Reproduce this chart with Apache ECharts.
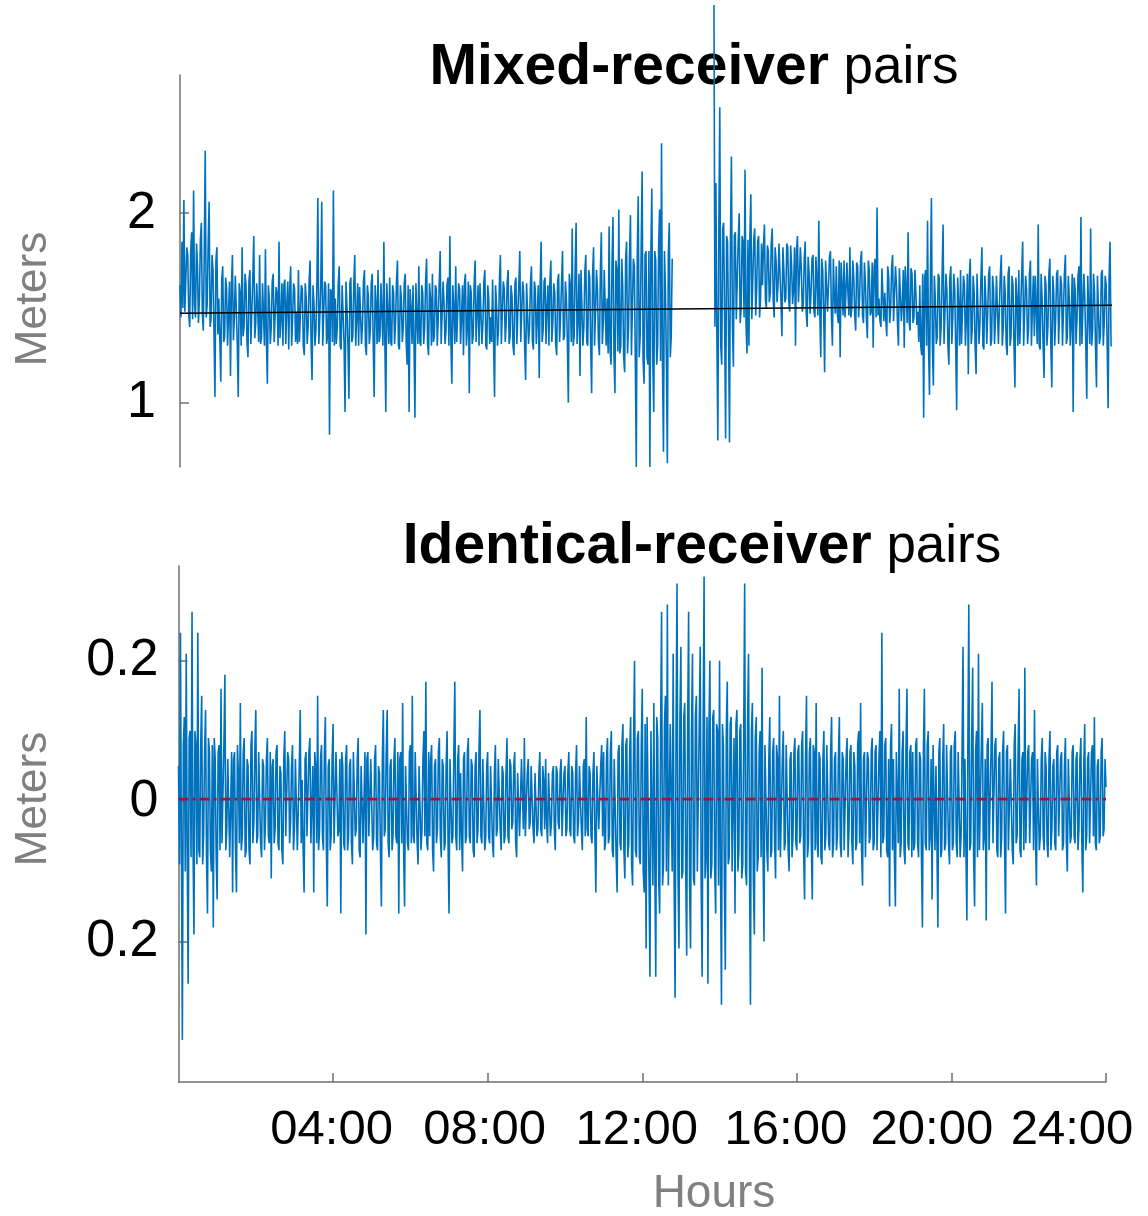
<!DOCTYPE html>
<html>
<head>
<meta charset="utf-8">
<script src="https://cdn.jsdelivr.net/npm/echarts@6/dist/echarts.min.js"></script>
<style>
  html, body { margin: 0; padding: 0; background: #ffffff; }
  #chart { width: 1148px; height: 1216px; }
</style>
</head>
<body>
<div id="chart"></div>
<script>
// Sampling interval of both records, in hours (1.5 minutes).
const sampleStep = 0.025;

// Tick positions
const hourTicks = [4, 8, 12, 16, 20, 24];
const mixedTicks = [1, 2];
const identicalTicks = [-0.2, 0, 0.2];

// Linear trend of the mixed-receiver record (hour, metres)
const mixedTrend = [[0, 1.472], [24, 1.514]];
// Mean level of the identical-receiver record (metres)
const identicalMean = 0.003;

// Mixed-receiver pairs, metres. One row per hour, 40 samples per row; null = no data.
const mixedPairs = [
  [1.62,1.45,1.85,1.50,2.07,1.48,1.48,1.82,1.78,1.46,1.40,1.80,1.90,1.44,2.12,1.52,1.45,1.84,1.72,1.42,1.55,1.86,1.95,1.47,1.38,1.80,2.33,1.45,1.52,1.83,2.06,1.40,1.44,1.78,1.70,1.38,1.03,1.75,1.82,1.36],
  [1.55,1.34,1.11,1.65,1.72,1.32,1.35,1.66,1.60,1.30,1.30,1.64,1.14,1.62,1.78,1.33,1.45,1.67,1.66,1.31,1.03,1.63,1.58,1.30,1.82,1.35,1.40,1.68,1.62,1.32,1.24,1.64,1.70,1.31,1.48,1.66,1.88,1.34,1.42,1.63],
  [1.50,1.32,1.78,1.31,1.35,1.63,1.62,1.30,1.81,1.33,1.10,1.62,1.55,1.31,1.40,1.64,1.68,1.32,1.32,1.61,1.58,1.30,1.85,1.34,1.44,1.63,1.30,1.62,1.65,1.31,1.52,1.64,1.28,1.60,1.72,1.30,1.45,1.63,1.60,1.32],
  [1.48,1.31,1.70,1.32,1.33,1.62,1.60,1.30,1.25,1.63,1.55,1.31,1.40,1.64,1.75,1.32,1.12,1.62,1.52,1.30,1.38,1.63,2.08,1.31,1.45,1.62,2.06,1.30,1.30,1.64,1.62,1.31,1.35,1.63,0.83,1.60,1.58,1.32,2.12,1.30],
  [1.55,1.31,1.40,1.63,1.72,1.30,1.28,1.62,1.62,1.31,0.95,1.64,1.50,1.30,1.02,1.63,1.66,1.32,1.35,1.62,1.78,1.30,1.45,1.63,1.30,1.61,1.60,1.31,1.42,1.64,1.70,1.30,1.25,1.62,1.56,1.31,1.38,1.63,1.68,1.32],
  [1.03,1.62,1.52,1.31,1.70,1.32,1.35,1.63,1.62,1.30,1.85,1.32,0.95,1.63,1.48,1.31,1.66,1.32,1.30,1.62,1.58,1.31,1.42,1.64,1.75,1.30,1.28,1.62,1.55,1.32,1.40,1.63,1.68,1.31,1.20,1.62,0.95,1.60,1.50,1.31],
  [1.62,1.32,0.92,1.63,1.45,1.31,1.72,1.32,1.30,1.62,1.58,1.31,1.40,1.64,1.76,1.31,1.25,1.63,1.55,1.30,1.68,1.32,1.35,1.62,1.60,1.30,1.45,1.63,1.80,1.31,1.30,1.64,1.52,1.31,1.38,1.62,1.66,1.30,1.88,1.33],
  [1.10,1.62,1.50,1.31,1.72,1.32,1.32,1.63,1.60,1.31,1.45,1.62,1.25,1.63,1.68,1.30,1.40,1.64,1.05,1.62,1.58,1.31,1.35,1.63,1.75,1.32,1.48,1.62,1.30,1.63,1.62,1.31,1.42,1.64,1.70,1.30,1.28,1.62,1.55,1.31],
  [1.45,1.32,1.65,1.31,1.03,1.62,1.52,1.30,1.38,1.63,1.78,1.31,1.30,1.64,1.60,1.32,1.42,1.63,1.70,1.31,1.35,1.62,1.56,1.30,1.25,1.63,1.66,1.31,1.48,1.62,1.80,1.32,1.32,1.64,1.58,1.30,1.12,1.63,1.62,1.31],
  [1.40,1.63,1.72,1.32,1.28,1.64,1.60,1.31,1.45,1.62,1.13,1.63,1.85,1.32,1.38,1.64,1.66,1.31,1.50,1.62,1.30,1.64,1.75,1.32,1.42,1.63,1.58,1.31,1.25,1.64,1.68,1.32,1.46,1.63,1.80,1.33,1.35,1.64,1.55,1.32],
  [1.00,1.68,1.62,1.32,1.92,1.30,1.35,1.70,1.95,1.31,1.45,1.68,1.14,1.70,1.70,1.30,1.40,1.69,1.78,1.32,1.30,1.70,1.66,1.31,1.05,1.68,1.82,1.30,1.48,1.70,1.60,1.32,1.25,1.69,1.90,1.31,1.42,1.70,1.70,1.30],
  [1.55,1.26,1.93,1.28,1.20,1.74,1.98,1.25,1.05,1.75,1.70,1.27,2.02,1.26,1.30,1.76,1.62,1.24,1.16,1.75,1.85,1.26,1.40,1.77,1.99,1.25,1.25,1.76,1.72,1.22,0.66,1.78,2.09,1.24,1.35,1.80,2.22,1.22,1.10,1.78],
  [1.80,1.24,1.20,1.80,0.66,1.78,2.13,1.22,0.95,1.80,1.75,1.20,1.30,1.82,2.02,1.22,2.37,1.20,0.74,1.80,1.60,1.22,0.68,1.78,1.95,1.24,1.35,1.76,null,null,null,null,null,null,null,null,null,null,null,null],
  [null,null,null,null,null,null,null,null,null,null,null,null,null,null,null,null,null,null,null,null,null,null,null,null,null,null,null,null,null,null,3.10,1.40,2.16,1.35,0.80,1.90,2.56,1.30,1.20,1.92],
  [1.95,1.42,0.81,1.88,1.85,1.40,0.79,1.86,2.30,1.42,1.19,1.88,1.90,1.44,1.45,1.86,2.00,1.42,1.50,1.88,1.85,1.45,2.23,1.42,1.26,1.86,1.30,1.88,2.10,1.44,1.45,1.86,1.92,1.46,1.60,1.85,1.88,1.45,1.55,1.84],
  [1.62,1.82,1.94,1.54,1.50,1.83,1.80,1.53,1.58,1.84,1.92,1.55,1.45,1.82,1.75,1.53,1.62,1.84,1.85,1.54,1.35,1.82,1.70,1.53,1.55,1.84,1.82,1.54,1.48,1.83,1.72,1.52,1.60,1.82,1.30,1.80,1.88,1.53,1.66,1.82],
  [1.70,1.48,1.52,1.76,1.85,1.48,1.40,1.77,1.68,1.47,1.58,1.76,1.78,1.48,1.45,1.77,1.65,1.46,1.96,1.48,1.24,1.76,1.70,1.47,1.16,1.75,1.62,1.48,1.48,1.77,1.80,1.46,1.30,1.76,1.55,1.47,1.72,1.48,1.42,1.75],
  [1.24,1.74,1.62,1.46,1.75,1.45,1.45,1.74,1.58,1.46,1.82,1.45,1.50,1.75,1.66,1.46,1.38,1.74,1.72,1.45,1.55,1.75,1.80,1.46,1.42,1.74,1.63,1.45,1.34,1.75,1.70,1.46,1.48,1.74,1.29,1.72,1.76,1.45,2.03,1.46],
  [1.55,1.43,1.40,1.71,1.72,1.43,1.58,1.44,1.35,1.72,1.66,1.42,1.50,1.71,1.78,1.43,1.44,1.72,1.62,1.42,1.30,1.71,1.70,1.43,1.52,1.70,1.29,1.72,1.60,1.42,1.90,1.43,1.38,1.71,1.68,1.42,1.45,1.70,1.58,1.41],
  [1.48,1.32,1.62,1.30,1.25,1.68,0.92,1.66,1.70,1.30,1.96,1.31,1.04,1.68,2.08,1.30,1.09,1.67,1.55,1.31,1.35,1.68,1.66,1.30,1.40,1.67,1.94,1.31,1.30,1.68,1.58,1.30,1.20,1.66,1.72,1.31,1.45,1.68,1.60,1.30],
  [0.96,1.66,1.52,1.30,1.70,1.31,1.30,1.67,1.62,1.30,1.45,1.68,1.15,1.66,1.76,1.31,1.38,1.67,1.58,1.30,1.15,1.68,1.68,1.31,1.42,1.66,1.82,1.30,1.28,1.67,1.55,1.31,1.48,1.68,1.72,1.30,1.33,1.67,1.60,1.31],
  [1.45,1.67,1.66,1.31,1.30,1.68,1.78,1.30,1.40,1.67,1.58,1.31,1.25,1.68,1.72,1.30,1.35,1.67,1.62,1.31,1.08,1.66,1.55,1.30,1.70,1.31,1.32,1.68,1.85,1.30,1.48,1.67,1.60,1.31,1.38,1.68,1.75,1.30,1.50,1.67],
  [1.35,1.67,1.68,1.31,1.94,1.30,1.28,1.68,1.55,1.31,1.13,1.67,1.62,1.30,1.40,1.68,1.76,1.31,1.08,1.67,1.58,1.30,1.45,1.68,1.70,1.31,1.30,1.67,1.62,1.30,1.48,1.68,1.78,1.31,1.35,1.67,1.55,1.30,1.42,1.68],
  [0.95,1.66,1.60,1.31,1.45,1.67,1.72,1.30,1.98,1.31,1.30,1.68,1.55,1.30,1.02,1.67,1.68,1.31,1.92,1.30,1.38,1.68,1.58,1.30,1.08,1.67,1.66,1.31,1.35,1.68,1.70,1.30,1.42,1.67,1.62,1.31,0.97,1.66,1.85,1.30]
];
const mixedLast = 1.30;

// Identical-receiver pairs, metres. One row per hour, 40 samples per row.
const identicalPairs = [
  [0.05,-0.09,0.24,-0.06,-0.34,0.08,0.12,-0.10,0.21,-0.07,-0.26,0.09,0.10,-0.08,0.27,-0.06,-0.19,0.10,0.08,-0.09,0.24,-0.07,-0.08,0.08,0.15,-0.09,-0.05,0.07,0.13,-0.08,-0.16,0.09,0.07,-0.07,-0.10,0.08,-0.18,0.09,0.06,-0.08],
  [-0.14,0.07,0.08,-0.07,0.16,-0.06,-0.06,0.08,0.18,-0.07,-0.04,0.06,0.06,-0.08,-0.08,0.07,-0.13,0.06,0.07,-0.07,-0.13,0.08,0.04,-0.06,0.14,-0.07,-0.05,0.07,0.09,-0.08,-0.07,0.06,0.05,-0.07,-0.09,0.08,0.10,-0.06,-0.03,0.07],
  [0.13,-0.06,-0.05,0.07,0.07,-0.06,-0.08,0.06,0.05,-0.07,-0.03,0.06,0.09,-0.05,-0.06,0.07,-0.11,0.05,0.06,-0.06,-0.04,0.07,0.08,-0.06,-0.07,0.05,0.04,-0.07,-0.09,0.06,0.10,-0.05,-0.05,0.07,0.06,-0.06,-0.03,0.05,0.08,-0.07],
  [-0.04,0.06,0.06,-0.07,-0.07,0.05,0.13,-0.06,0.03,-0.07,-0.13,0.06,0.07,-0.05,-0.05,0.07,0.09,-0.06,-0.06,0.05,-0.13,0.07,0.05,-0.06,0.15,-0.07,-0.04,0.06,0.08,-0.05,-0.07,0.07,0.12,-0.06,-0.15,0.05,0.06,-0.07,-0.05,0.06],
  [0.11,-0.06,-0.06,0.07,0.07,-0.05,-0.04,0.06,-0.16,0.07,0.05,-0.06,-0.07,0.06,0.08,-0.07,-0.05,0.05,0.06,-0.06,-0.09,0.07,0.07,-0.05,-0.04,0.06,0.09,-0.07,-0.08,0.05,0.05,-0.06,-0.06,0.07,-0.19,0.06,0.07,-0.05,-0.05,0.06],
  [0.06,-0.07,-0.05,0.06,0.08,-0.06,-0.07,0.05,0.04,-0.07,-0.15,0.06,0.13,-0.05,-0.04,0.07,0.13,-0.06,-0.08,0.05,0.06,-0.07,-0.05,0.06,0.09,-0.05,-0.06,0.07,-0.16,0.06,0.07,-0.06,0.14,-0.07,-0.15,0.05,0.05,-0.06,-0.07,0.07],
  [0.08,-0.06,0.15,-0.05,-0.06,0.07,0.07,-0.06,-0.09,0.05,0.05,-0.07,-0.04,0.06,0.10,-0.05,0.17,-0.06,-0.07,0.07,-0.05,0.06,0.08,-0.07,-0.10,0.05,0.06,-0.06,-0.04,0.07,0.09,-0.05,-0.08,0.06,0.05,-0.07,-0.06,0.05,0.10,-0.06],
  [-0.16,0.06,0.06,-0.06,-0.05,0.07,0.17,-0.05,-0.07,0.06,0.08,-0.07,0.04,-0.05,-0.10,0.06,0.07,-0.06,-0.05,0.07,0.09,-0.05,-0.06,0.06,0.05,-0.07,-0.08,0.05,0.07,-0.06,-0.04,0.07,0.13,-0.05,-0.06,0.06,0.06,-0.07,-0.05,0.05],
  [0.07,-0.05,-0.06,0.05,0.05,-0.06,-0.08,0.04,0.08,-0.05,-0.04,0.06,0.06,-0.04,-0.07,0.05,0.04,-0.06,-0.05,0.04,0.09,-0.05,-0.06,0.06,0.05,-0.04,-0.03,0.05,0.07,-0.06,-0.08,0.04,0.04,-0.05,-0.05,0.06,0.06,-0.04,0.09,-0.05],
  [-0.05,0.04,0.06,-0.04,-0.03,0.05,0.05,-0.04,-0.06,0.04,0.04,-0.05,-0.04,0.04,0.07,-0.04,-0.05,0.05,0.03,-0.04,0.06,-0.03,-0.06,0.04,0.04,-0.05,-0.03,0.04,0.05,-0.04,-0.07,0.05,0.04,-0.03,-0.04,0.04,0.06,-0.05,-0.05,0.04],
  [0.05,-0.05,-0.04,0.04,0.07,-0.04,-0.05,0.05,0.04,-0.05,-0.06,0.04,0.08,-0.05,-0.03,0.05,0.05,-0.04,-0.07,0.05,0.06,-0.05,0.12,-0.04,-0.05,0.05,0.04,-0.05,-0.06,0.04,0.07,-0.05,-0.13,0.05,0.05,-0.04,-0.04,0.05,0.08,-0.05],
  [0.07,-0.07,-0.06,0.06,0.09,-0.06,-0.05,0.07,0.10,-0.07,-0.08,0.06,0.06,-0.08,-0.13,0.07,0.08,-0.06,-0.07,0.08,0.11,-0.07,-0.11,0.08,0.09,-0.08,-0.06,0.07,0.12,-0.09,-0.12,0.08,0.20,-0.07,-0.08,0.09,0.10,-0.08,-0.09,0.08],
  [0.16,-0.10,-0.13,0.11,-0.21,0.12,0.12,-0.11,-0.25,0.10,0.10,-0.12,0.14,-0.09,-0.25,0.12,0.09,-0.11,-0.16,0.10,0.27,-0.12,-0.09,0.11,0.15,-0.10,0.28,-0.12,-0.12,0.11,0.11,-0.10,0.21,-0.12,-0.28,0.11,0.31,-0.10,-0.21,0.12],
  [0.22,-0.11,-0.10,0.12,0.14,-0.10,-0.22,0.11,0.27,-0.12,-0.21,0.10,0.21,-0.11,-0.12,0.12,0.15,-0.10,-0.10,0.11,0.22,-0.12,-0.25,0.10,0.32,-0.11,-0.08,0.12,-0.26,0.10,0.20,-0.11,-0.09,0.12,0.13,-0.10,-0.16,0.11,0.10,-0.12],
  [0.20,-0.10,-0.29,0.11,0.08,-0.11,-0.24,0.10,0.17,-0.09,-0.08,0.11,0.12,-0.10,-0.10,0.09,-0.16,0.11,0.13,-0.10,-0.07,0.10,0.11,-0.11,-0.09,0.09,0.31,-0.10,-0.12,0.11,0.21,-0.09,-0.29,0.10,0.14,-0.11,-0.19,0.09,0.12,-0.10],
  [-0.08,0.07,0.10,-0.08,0.19,-0.07,-0.20,0.08,0.08,-0.07,-0.10,0.06,0.12,-0.08,-0.07,0.07,0.09,-0.06,-0.11,0.08,0.06,-0.07,0.15,-0.08,-0.08,0.06,0.10,-0.07,-0.06,0.08,0.08,-0.07,-0.10,0.06,0.07,-0.08,-0.05,0.07,0.09,-0.06],
  [-0.07,0.07,0.08,-0.06,-0.05,0.08,0.10,-0.07,-0.14,0.06,0.15,-0.08,-0.06,0.07,0.09,-0.06,-0.14,0.08,0.07,-0.07,0.14,-0.06,-0.08,0.07,0.06,-0.08,-0.09,0.06,0.10,-0.07,-0.05,0.08,0.08,-0.06,-0.07,0.07,0.12,-0.08,-0.06,0.06],
  [0.07,-0.07,-0.05,0.06,0.12,-0.06,-0.08,0.07,0.06,-0.07,-0.07,0.06,0.09,-0.08,-0.04,0.07,0.08,-0.06,-0.09,0.07,0.05,-0.07,-0.06,0.08,0.10,-0.06,0.14,-0.07,-0.12,0.06,0.07,-0.08,-0.08,0.07,0.06,-0.06,-0.05,0.07,0.09,-0.07],
  [-0.06,0.07,0.08,-0.07,-0.07,0.06,0.10,-0.08,0.24,-0.06,-0.05,0.08,0.09,-0.07,-0.08,0.06,-0.15,0.08,0.11,-0.07,0.06,-0.08,-0.15,0.07,0.07,-0.06,0.16,-0.08,-0.06,0.07,0.10,-0.07,-0.09,0.08,0.16,-0.06,-0.07,0.07,0.08,-0.08],
  [0.07,-0.07,-0.06,0.08,0.09,-0.06,-0.08,0.07,0.06,-0.08,-0.18,0.07,0.16,-0.06,-0.07,0.08,0.10,-0.07,-0.05,0.06,-0.14,0.08,0.08,-0.07,0.05,-0.06,-0.18,0.07,0.09,-0.08,-0.07,0.06,0.11,-0.07,-0.06,0.08,0.08,-0.06,-0.09,0.07],
  [0.08,-0.07,-0.06,0.08,0.10,-0.06,-0.08,0.07,0.07,-0.08,-0.05,0.07,0.22,-0.08,0.06,-0.07,-0.17,0.08,0.28,-0.07,-0.06,0.09,0.19,-0.08,-0.15,0.07,0.10,-0.08,0.21,-0.07,-0.07,0.08,0.14,-0.07,-0.05,0.06,-0.17,0.08,0.09,-0.07],
  [-0.07,0.07,0.17,-0.06,-0.06,0.08,0.09,-0.07,-0.08,0.06,0.07,-0.08,-0.05,0.07,0.10,-0.06,-0.16,0.07,0.08,-0.07,-0.07,0.06,0.06,-0.07,-0.09,0.08,0.11,-0.06,-0.05,0.07,0.16,-0.07,-0.08,0.06,0.07,-0.07,0.19,-0.06,-0.06,0.07],
  [0.08,-0.06,-0.06,0.06,0.07,-0.07,0.13,-0.05,-0.12,0.06,0.06,-0.07,-0.05,0.06,0.09,-0.05,-0.07,0.07,0.05,-0.06,-0.08,0.06,0.10,-0.07,-0.04,0.05,0.06,-0.06,-0.07,0.07,0.08,-0.05,-0.05,0.06,0.07,-0.07,-0.06,0.05,0.09,-0.06],
  [-0.10,0.06,0.06,-0.06,-0.05,0.07,0.08,-0.05,-0.06,0.06,0.07,-0.07,-0.04,0.06,0.09,-0.06,-0.13,0.05,0.11,-0.07,-0.05,0.06,0.07,-0.06,-0.06,0.07,0.08,-0.05,0.12,-0.06,-0.07,0.05,0.06,-0.06,-0.05,0.07,0.09,-0.05,-0.04,0.06]
];
const identicalLast = 0.02;

// Turn hour rows into [hour, value] pairs.
function toSeries(rows, last) {
  const out = [];
  rows.forEach(function (row, h) {
    row.forEach(function (v, i) {
      out.push([+(h + i * sampleStep).toFixed(3), v]);
    });
  });
  out.push([24, last]);
  return out;
}

const AXIS_GREY = '#6f6f6f';
const TITLE_GREY = '#808080';
const BLUE = '#0072BD';
const FONT = 'Liberation Sans, Arial, sans-serif';

function pad2(n) { return (n < 10 ? '0' : '') + n; }

// Small per-label shifts of the hour labels (right padding moves a centred label left)
const hourLabelShift = { 4: 3, 8: 6, 12: 11, 16: 22, 20: 39, 24: 68 };
const hourRich = {};
hourTicks.forEach(function (t) {
  hourRich['h' + t] = {
    fontSize: 49, fontFamily: FONT, color: '#000',
    padding: [0, hourLabelShift[t], 0, 0]
  };
});

const titleRich = {
  b: { fontSize: 57, fontWeight: 'bold', fontFamily: FONT, fill: '#000' },
  n: { fontSize: 53, fontFamily: FONT, fill: '#000' }
};

const chart = echarts.init(document.getElementById('chart'), null, { renderer: 'canvas' });

const option = {
  animation: false,
  backgroundColor: '#ffffff',
  grid: [
    { left: 180, top: 75, width: 932, height: 392 },
    { left: 178.5, top: 566, width: 927.5, height: 516 }
  ],
  xAxis: [
    {
      gridIndex: 0, type: 'value', min: 0, max: 24, show: false
    },
    {
      gridIndex: 1, type: 'value', min: 0, max: 24, interval: 4,
      axisLine: { show: true, onZero: false, lineStyle: { color: AXIS_GREY, width: 1.5 } },
      axisTick: { show: true, inside: true, length: 9, customValues: hourTicks,
                  lineStyle: { color: AXIS_GREY, width: 1.5 } },
      axisLabel: {
        customValues: hourTicks, margin: 24,
        formatter: function (v) { return '{h' + v + '|' + pad2(v) + ':00}'; },
        rich: hourRich
      },
      splitLine: { show: false }
    }
  ],
  yAxis: [
    {
      gridIndex: 0, type: 'value', min: 0.66, max: 2.73,
      axisLine: { show: true, onZero: false, lineStyle: { color: AXIS_GREY, width: 1.5 } },
      axisTick: { show: true, inside: true, length: 9, customValues: mixedTicks,
                  lineStyle: { color: AXIS_GREY, width: 1.5 } },
      axisLabel: { customValues: mixedTicks, margin: 24, fontSize: 52, fontFamily: FONT, color: '#000' },
      splitLine: { show: false }
    },
    {
      gridIndex: 1, type: 'value', min: -0.40, max: 0.335,
      axisLine: { show: true, onZero: false, lineStyle: { color: AXIS_GREY, width: 1.5 } },
      axisTick: { show: true, inside: true, length: 9, customValues: identicalTicks,
                  lineStyle: { color: AXIS_GREY, width: 1.5 } },
      axisLabel: {
        customValues: identicalTicks, margin: 20, fontSize: 52, fontFamily: FONT, color: '#000',
        formatter: function (v) { return v === 0 ? '0' : Math.abs(v).toFixed(1); }
      },
      splitLine: { show: false }
    }
  ],
  series: [
    {
      name: 'Mixed-receiver pairs', type: 'line',
      xAxisIndex: 0, yAxisIndex: 0,
      data: toSeries(mixedPairs, mixedLast),
      showSymbol: false, connectNulls: false, clip: false,
      lineStyle: { color: BLUE, width: 1.6 }, z: 3
    },
    {
      name: 'Mixed trend', type: 'line',
      xAxisIndex: 0, yAxisIndex: 0,
      data: mixedTrend, showSymbol: false,
      lineStyle: { color: '#000000', width: 1.4 }, z: 4
    },
    {
      name: 'Identical-receiver pairs', type: 'line',
      xAxisIndex: 1, yAxisIndex: 1,
      data: toSeries(identicalPairs, identicalLast),
      showSymbol: false,
      lineStyle: { color: BLUE, width: 1.6 }, z: 3
    },
    {
      name: 'Identical mean', type: 'line',
      xAxisIndex: 1, yAxisIndex: 1,
      data: [[0, identicalMean], [24, identicalMean]], showSymbol: false,
      lineStyle: { color: '#A2142F', width: 2.6, type: [10, 4, 3, 4] }, z: 4
    }
  ],
  graphic: [
    {
      type: 'text', x: 694, y: 68.5, z: 1,
      style: {
        text: '{b|Mixed-receiver}{n| pairs}',
        align: 'center', verticalAlign: 'middle', rich: titleRich
      }
    },
    {
      type: 'text', x: 702, y: 547.5, z: 1,
      style: {
        text: '{b|Identical-receiver}{n| pairs}',
        align: 'center', verticalAlign: 'middle', rich: titleRich
      }
    },
    {
      type: 'text', x: 34, y: 299, rotation: Math.PI / 2,
      style: { text: 'Meters', fontSize: 44, fontFamily: FONT, fill: TITLE_GREY,
               align: 'center', verticalAlign: 'middle' }
    },
    {
      type: 'text', x: 34, y: 799, rotation: Math.PI / 2,
      style: { text: 'Meters', fontSize: 44, fontFamily: FONT, fill: TITLE_GREY,
               align: 'center', verticalAlign: 'middle' }
    },
    {
      type: 'text', x: 714, y: 1194,
      style: { text: 'Hours', fontSize: 46, fontFamily: FONT, fill: TITLE_GREY,
               align: 'center', verticalAlign: 'middle' }
    }
  ]
};

chart.setOption(option);
</script>
</body>
</html>
